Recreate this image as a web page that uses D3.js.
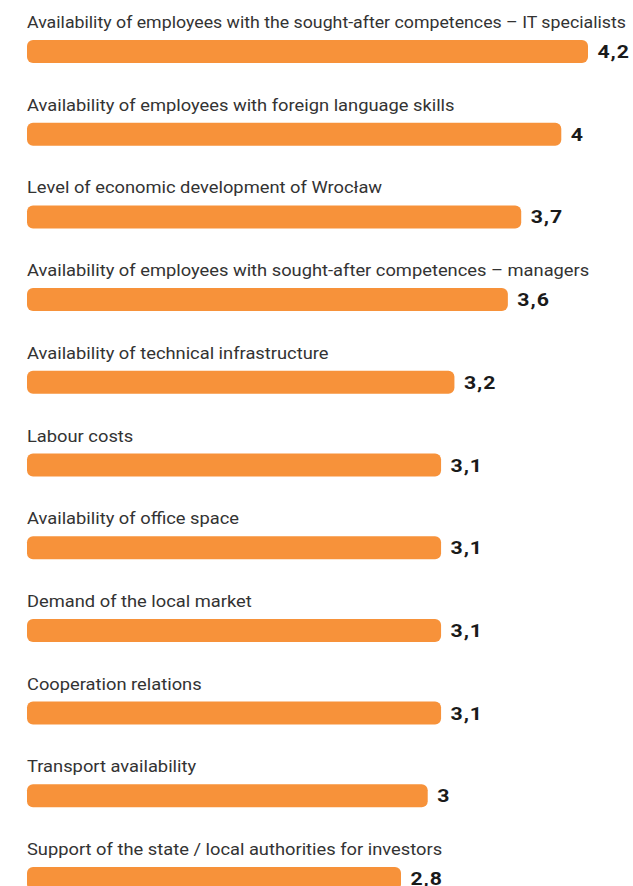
<!DOCTYPE html>
<html>
<head>
<meta charset="utf-8">
<script src="https://cdn.jsdelivr.net/npm/d3@7"></script>
<style>
  html, body { margin: 0; padding: 0; background: #ffffff; }
  svg { display: block; }
</style>
</head>
<body>
<svg id="chart" width="633" height="886"></svg>
<script>
// Investment location factors, average rating
const categories = [
  "Availability of employees with the sought-after competences \u2013 IT specialists",
  "Availability of employees with foreign language skills",
  "Level of economic development of Wroc\u0142aw",
  "Availability of employees with sought-after competences \u2013 managers",
  "Availability of technical infrastructure",
  "Labour costs",
  "Availability of office space",
  "Demand of the local market",
  "Cooperation relations",
  "Transport availability",
  "Support of the state / local authorities for investors"
];
const values = [4.2, 4, 3.7, 3.6, 3.2, 3.1, 3.1, 3.1, 3.1, 3, 2.8];
const valueLabels = ["4,2", "4", "3,7", "3,6", "3,2", "3,1", "3,1", "3,1", "3,1", "3", "2,8"];

const svg = d3.select("#chart");
const W = 633;

const rowStep = 82.7;
const firstBarTop = 40;
const barHeight = 23;
const labelStretch = 1.09;
const rightMargin = 7;

const x = d3.scaleLinear().domain([0, 4.2]).range([27, 588]);
const y = d3.scaleLinear().domain([0, 1]).range([firstBarTop, firstBarTop + rowStep]);

const rows = svg.selectAll("g.row")
  .data(categories.map((c, i) => ({ c, v: values[i], label: valueLabels[i], i })))
  .join("g")
  .attr("class", "row");

// category name above each bar, set in a slightly wide face;
// long names are narrowed so they stay inside the chart
rows.append("text")
  .attr("font-family", "Roboto, sans-serif")
  .attr("font-size", 16.8)
  .attr("fill", "#333333")
  .text(d => d.c)
  .attr("transform", function(d) {
    const w = this.getComputedTextLength();
    const avail = W - rightMargin - x(0);
    const sx = Math.min(labelStretch, avail / w);
    return `translate(${x(0)},${y(d.i) - 12}) scale(${sx},1)`;
  });

rows.append("rect")
  .attr("x", x(0))
  .attr("y", d => y(d.i))
  .attr("width", d => x(d.v) - x(0))
  .attr("height", barHeight)
  .attr("rx", 6)
  .attr("ry", 6)
  .attr("fill", "#F7923A");

// value at the end of each bar
rows.append("text")
  .attr("transform", d => `translate(${x(d.v) + 9.5},${y(d.i) + barHeight / 2 + 6.5}) scale(1.15,1)`)
  .attr("font-family", "Roboto, sans-serif")
  .attr("font-weight", 700)
  .attr("font-size", 18.5)
  .attr("letter-spacing", 0.8)
  .attr("fill", "#1a1a1a")
  .text(d => d.label);
</script>
</body>
</html>
